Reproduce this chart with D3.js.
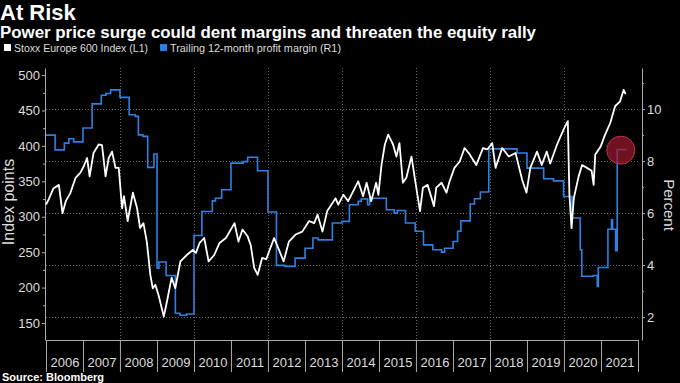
<!DOCTYPE html>
<html>
<head>
<meta charset="utf-8">
<script src="https://cdn.jsdelivr.net/npm/d3@7"></script>
<style>
  body { margin: 0; background: #000; }
  svg text { font-family: "Liberation Sans", Arial, sans-serif; }
</style>
</head>
<body>
<script>
// Stoxx Europe 600 index level (left axis)
const indexDates = [
  "2006-01-02","2006-02-01","2006-03-15","2006-05-08","2006-06-13","2006-07-15","2006-08-28","2006-10-20","2006-12-05",
  "2007-01-08","2007-02-10","2007-03-08","2007-04-15","2007-06-05","2007-07-08","2007-08-12","2007-09-12","2007-10-15","2007-11-18","2007-12-20",
  "2008-01-22","2008-02-10","2008-03-17","2008-05-08","2008-06-18","2008-07-18","2008-08-20","2008-09-22","2008-10-27","2008-11-20","2008-12-15",
  "2009-01-15","2009-03-09","2009-04-10","2009-05-25","2009-06-30","2009-08-20","2009-10-22","2009-12-20",
  "2010-01-20","2010-02-25","2010-04-12","2010-05-25","2010-07-20","2010-09-10","2010-11-12",
  "2011-02-05","2011-03-16","2011-04-25","2011-06-15","2011-07-15","2011-08-18","2011-09-22","2011-11-05","2011-12-15",
  "2012-03-02","2012-04-20","2012-06-04","2012-07-26","2012-10-01","2012-12-05",
  "2013-02-10","2013-04-01","2013-05-05","2013-06-22","2013-08-08","2013-10-30","2013-11-25",
  "2014-01-15","2014-03-03","2014-06-10","2014-07-28","2014-09-01","2014-10-16","2014-12-04","2014-12-26",
  "2015-01-26","2015-02-28","2015-04-02","2015-05-20","2015-06-22","2015-07-22","2015-08-25","2015-09-28","2015-11-18","2015-12-20",
  "2016-02-10","2016-03-10","2016-04-25","2016-06-27","2016-07-20","2016-09-10","2016-10-28","2016-11-28",
  "2017-01-15","2017-03-08","2017-04-25","2017-06-15","2017-08-18","2017-10-24","2017-12-05",
  "2018-01-23","2018-02-25","2018-05-01","2018-07-05","2018-09-10","2018-11-15","2018-12-27",
  "2019-02-03","2019-04-10","2019-05-27","2019-07-15","2019-08-18","2019-10-25","2019-12-28",
  "2020-02-08","2020-02-24","2020-03-16","2020-04-07","2020-05-25","2020-06-28","2020-08-15","2020-09-30","2020-10-20","2020-11-05","2020-12-28",
  "2021-02-10","2021-04-01","2021-05-20","2021-07-08","2021-08-12","2021-09-01"
];
const indexValues = [
  317,326,340,345,305,322,333,355,362,
  371,383,357,390,402,401,357,383,392,369,369,
  312,329,294,334,312,284,291,265,218,199,204,
  190,159,181,214,199,237,246,253,
  249,263,270,237,246,263,270,
  291,265,282,272,260,228,218,242,240,
  270,253,237,265,275,279,
  294,291,303,279,308,326,317,
  331,322,350,329,348,322,348,331,
  373,402,416,402,385,404,348,355,385,355,
  308,341,345,315,341,348,334,350,
  369,378,397,388,373,397,395,
  404,369,397,385,390,352,334,
  369,392,373,392,375,402,423,
  435,331,284,326,357,373,369,365,345,388,399,
  416,432,456,463,479,473
];

// trailing 12-month profit margin, % (right axis), step series
const marginDates = [
  "2006-01-01","2006-04-01","2006-07-01","2006-08-15","2006-10-01",
  "2007-01-01","2007-04-01","2007-07-01","2007-08-15","2007-10-01",
  "2008-01-01","2008-04-01","2008-06-01","2008-07-01","2008-08-15","2008-10-01","2008-12-01",
  "2009-01-01","2009-01-20","2009-04-01","2009-07-01","2009-08-15","2009-10-20",
  "2010-01-01","2010-03-20","2010-07-01","2010-08-01","2010-10-01",
  "2011-01-01","2011-05-01","2011-06-15","2011-09-20",
  "2012-01-01","2012-03-25","2012-06-15","2012-09-25",
  "2013-01-01","2013-03-20","2013-05-10","2013-09-28",
  "2014-01-01","2014-03-15","2014-06-10","2014-07-10","2014-09-10","2014-10-01",
  "2015-03-15","2015-06-01","2015-07-01","2015-09-20","2015-12-25",
  "2016-03-15","2016-06-15","2016-09-10","2016-10-10",
  "2017-01-01","2017-02-15","2017-03-20","2017-06-20","2017-08-01","2017-09-28","2017-12-20",
  "2018-09-25","2019-01-01","2019-06-15","2019-09-20","2019-12-28",
  "2020-03-20","2020-06-10","2020-06-25","2020-10-15","2020-11-25","2020-12-05",
  "2021-03-10","2021-04-15","2021-04-25","2021-05-25","2021-06-10","2021-09-05"
];
const marginValues = [
  9.0,8.43,8.69,8.86,8.74,
  9.27,10.2,10.53,10.6,10.74,
  10.45,9.78,9.72,9.01,8.95,7.76,8.27,
  3.88,4.12,3.6,2.15,2.07,2.12,
  5.14,6.06,6.47,6.57,6.9,
  7.92,7.98,8.15,7.63,
  6.04,3.99,3.95,4.27,
  4.65,5.04,4.97,5.62,
  5.68,6.32,6.45,6.54,6.32,6.57,
  6.13,6.0,6.1,5.62,5.3,
  4.78,4.59,4.5,4.65,
  4.91,5.3,5.7,6.35,6.55,6.81,8.47,
  8.31,7.73,7.32,7.24,6.64,
  5.81,4.59,3.57,3.6,3.18,3.91,
  5.38,5.74,5.38,4.55,8.44,8.47
];

const leftTicks = [150, 200, 250, 300, 350, 400, 450, 500];
const leftMinor = [175, 225, 275, 325, 375, 425, 475];
const rightTicks = [2, 4, 6, 8, 10];
const rightMinor = [3, 5, 7, 9, 11];
const years = d3.range(2006, 2022);

const W = 680, H = 383;
const plot = {left: 46, right: 638, top: 68, bottom: 340};
const parse = d3.timeParse("%Y-%m-%d");

const indexData = indexDates.map((d, i) => ({date: parse(d), v: indexValues[i]}));
const marginData = marginDates.map((d, i) => ({date: parse(d), v: marginValues[i]}));

const x = d3.scaleTime()
  .domain([new Date(2006, 0, 1), new Date(2022, 0, 1)])
  .range([plot.left, plot.right]);
const yL = d3.scaleLinear().domain([126, 510]).range([plot.bottom, plot.top]);
const yR = d3.scaleLinear().domain([1.12, 11.58]).range([plot.bottom, plot.top]);

const svg = d3.select("body").append("svg")
  .attr("width", W).attr("height", H)
  .style("background", "#000");

// titles
svg.append("text").attr("x", 0).attr("y", 20)
  .attr("fill", "#fff").attr("font-weight", "bold").attr("font-size", 22)
  .text("At Risk");
svg.append("text").attr("x", 0).attr("y", 38)
  .attr("fill", "#fff").attr("font-weight", "bold").attr("font-size", 16)
  .attr("textLength", 536).attr("lengthAdjust", "spacingAndGlyphs")
  .text("Power price surge could dent margins and threaten the equity rally");

// legend (squeezed to the narrow widths of the reference)
const legend = [
  {label: "Stoxx Europe 600 Index (L1)", color: "#fff", x: 4, w: 134},
  {label: "Trailing 12-month profit margin (R1)", color: "#2b7de9", x: 160, w: 171}
];
legend.forEach(l => {
  svg.append("rect").attr("x", l.x).attr("y", 44).attr("width", 7).attr("height", 7).attr("fill", l.color);
  svg.append("text").attr("x", l.x + 10).attr("y", 52)
    .attr("fill", "#ddd").attr("font-size", 11.5)
    .attr("textLength", l.w).attr("lengthAdjust", "spacingAndGlyphs")
    .text(l.label);
});

// gridlines
const grid = svg.append("g").attr("stroke", "#666").attr("stroke-dasharray", "1,2").attr("stroke-width", 1);
grid.selectAll(".h").data(rightTicks).join("line")
  .attr("x1", plot.left).attr("x2", plot.right)
  .attr("y1", d => Math.round(yR(d)) + 0.5).attr("y2", d => Math.round(yR(d)) + 0.5);
grid.selectAll(".v").data(d3.range(2008, 2022, 2)).join("line")
  .attr("y1", plot.top).attr("y2", plot.bottom)
  .attr("x1", d => Math.round(x(new Date(d, 0, 1))) + 0.5)
  .attr("x2", d => Math.round(x(new Date(d, 0, 1))) + 0.5);

function styleAxis(g) {
  g.select(".domain").attr("stroke", "#aaa");
  g.selectAll(".tick line").attr("stroke", "#aaa");
  g.selectAll(".tick text").attr("fill", "#ddd").attr("font-size", 13)
    .attr("font-family", "\"Liberation Sans\", sans-serif");
}

// left axis
svg.append("g").attr("transform", `translate(${plot.left - 1},0)`)
  .call(d3.axisLeft(yL).tickValues(leftTicks).tickSize(3).tickPadding(2).tickSizeOuter(0))
  .call(styleAxis);
svg.append("g").attr("transform", `translate(${plot.left - 1},0)`)
  .call(d3.axisLeft(yL).tickValues(leftMinor).tickSize(2).tickFormat("").tickSizeOuter(0))
  .call(g => g.select(".domain").remove())
  .call(styleAxis);

// right axis
svg.append("g").attr("transform", `translate(${plot.right + 4},0)`)
  .call(d3.axisRight(yR).tickValues(rightTicks).tickSize(3).tickPadding(2).tickSizeOuter(0))
  .call(styleAxis);
svg.append("g").attr("transform", `translate(${plot.right + 4},0)`)
  .call(d3.axisRight(yR).tickValues(rightMinor).tickSize(2).tickFormat("").tickSizeOuter(0))
  .call(g => g.select(".domain").remove())
  .call(styleAxis);

// bottom axis: year separators and centred labels
svg.append("g").attr("transform", `translate(0,${plot.bottom})`)
  .call(d3.axisBottom(x).tickValues(d3.range(2006, 2023).map(y => new Date(y, 0, 1)))
    .tickSize(32).tickFormat("").tickSizeOuter(0))
  .call(styleAxis);
svg.append("g").attr("transform", `translate(0,${plot.bottom})`)
  .call(d3.axisBottom(x).tickValues(years.map(y => new Date(y, 6, 2)))
    .tickSize(0).tickPadding(18).tickFormat(d3.timeFormat("%Y")))
  .call(g => g.select(".domain").remove())
  .call(styleAxis);

// axis titles
svg.append("text").attr("transform", "translate(14,202) rotate(-90)")
  .attr("text-anchor", "middle").attr("fill", "#ddd").attr("font-size", 16)
  .text("Index points");
svg.append("text").attr("transform", "translate(664,205) rotate(90)")
  .attr("text-anchor", "middle").attr("fill", "#ddd").attr("font-size", 15)
  .text("Percent");

// series
svg.append("path").datum(marginData)
  .attr("fill", "none").attr("stroke", "#2f80e0").attr("stroke-width", 1.6)
  .attr("d", d3.line().x(d => x(d.date)).y(d => yR(d.v)).curve(d3.curveStepAfter));
svg.append("path").datum(indexData)
  .attr("fill", "none").attr("stroke", "#fff").attr("stroke-width", 1.8).attr("stroke-linejoin", "round")
  .attr("d", d3.line().x(d => x(d.date)).y(d => yL(d.v)));

// highlight on the latest margin jump
svg.append("circle")
  .attr("cx", x(parse("2021-07-15"))).attr("cy", yR(8.42)).attr("r", 14)
  .attr("fill", "#a01830").attr("fill-opacity", 0.7)
  .attr("stroke", "#c0354a").attr("stroke-width", 1);

// source
svg.append("text").attr("x", 2).attr("y", 381)
  .attr("fill", "#fff").attr("font-weight", "bold").attr("font-size", 11)
  .text("Source: Bloomberg");
</script>
</body>
</html>
